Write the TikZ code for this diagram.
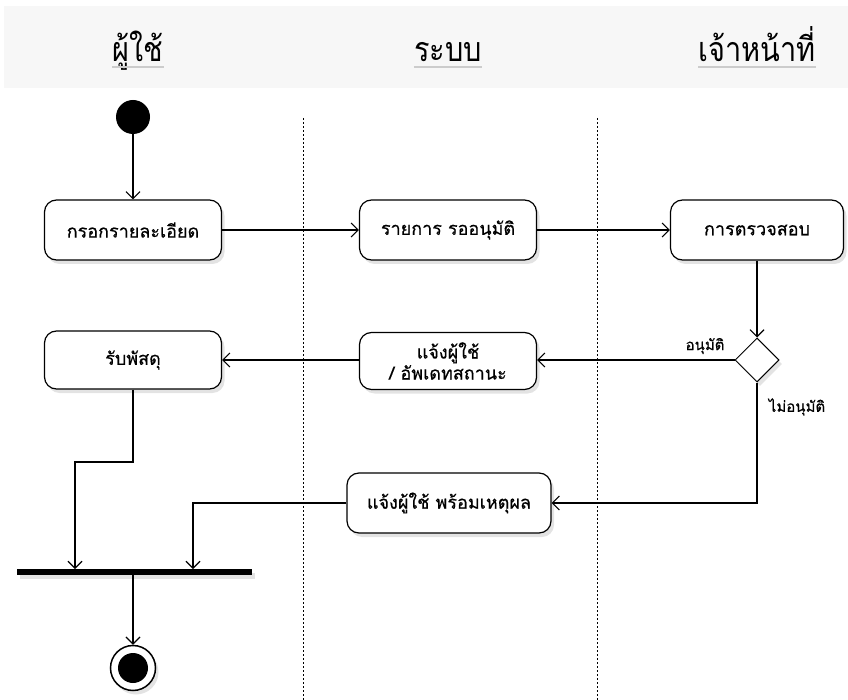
\documentclass[tikz,border=0pt]{standalone}
\usepackage{fontspec}
\newfontfamily\thai[Script=Thai]{Loma}
\newfontfamily\thaih[Script=Thai,FakeStretch=0.85]{Loma}
\newfontfamily\thaib[Script=Thai,FakeBold=0.5]{Loma}
\usetikzlibrary{arrows.meta,shapes.geometric,shadows}
\begin{document}
\begin{tikzpicture}[x=1pt,y=-1pt,
 shad/.style={drop shadow={opacity=0.22,shadow xshift=3pt,shadow yshift=-4pt}},
 act/.style={draw, rounded corners=12pt, fill=white, line width=1.2pt, minimum width=177pt, minimum height=60pt, inner sep=2pt, align=center, font=\thaib\fontsize{18}{21}\selectfont, shad},
 flow/.style={line width=1.1pt, -{Straight Barb[length=7pt,width=14pt,line width=1.1pt]}},
 lane/.style={dash pattern=on 2pt off 2pt, line width=1pt},
 hdr/.style={font=\thaih\fontsize{34}{36}\selectfont, inner sep=0pt, anchor=base},
 lbl/.style={font=\thaib\fontsize{15}{17}\selectfont, inner sep=0pt},
]
\useasboundingbox (0,0) rectangle (848,700);
\fill[black!3] (4,6) rectangle (848,88);
\node[hdr] (h1) at (138,62) {ผู้ใช้};
\node[hdr] (h2) at (448,62) {ระบบ};
\node[hdr] (h3) at (757,62) {เจ้าหน้าที่};
\foreach \h in {h1,h2,h3}{\draw[black!20, line width=1.5pt] ([yshift=-5pt]\h.base west) -- ([yshift=-5pt]\h.base east);}
\draw[lane] (303,118) -- (303,700);
\draw[lane] (597,118) -- (597,700);
\node[circle, fill=black, minimum size=34pt, inner sep=0pt] (s) at (133,117) {};
\node[act] (a1) at (133,230) {กรอกรายละเอียด};
\node[act] (a2) at (448,230) {รายการ รออนุมัติ};
\node[act, minimum width=173pt] (a3) at (757,230) {การตรวจสอบ};
\node[act, minimum height=58pt] (a4) at (133,360) {รับพัสดุ};
\node[act, minimum height=57pt] (a5) at (448,361) {แจ้งผู้ใช้\\/ อัพเดทสถานะ};
\node[act, minimum width=204pt] (a6) at (449,503) {แจ้งผู้ใช้ พร้อมเหตุผล};
\node[diamond, draw, fill=white, line width=1pt, aspect=1, minimum width=44pt, minimum height=44pt, inner sep=0pt, shad] (d) at (757,360) {};
\node[fill=black, minimum width=235pt, minimum height=6pt, inner sep=0pt, shad] (bar) at (134.5,572) {};
\node[circle, draw, fill=white, line width=1.5pt, minimum size=45pt, inner sep=0pt, shad] (e) at (133,668) {};
\node[circle, fill=black, minimum size=30pt, inner sep=0pt] (ei) at (e) {};
\coordinate (j1) at (75,569);
\coordinate (j2) at (193,569);
\draw[flow] (s) -- (a1);
\draw[flow] (a1) -- (a2);
\draw[flow] (a2) -- (a3);
\draw[flow] (a3) -- (d);
\draw[flow] (d.west) -- (d.west -| a5.east);
\draw[flow] (a5.west |- a4) -- (a4.east);
\draw[flow] (d.south) |- (a6.east);
\draw[flow] (a4.south) -- (133,462) -| (j1);
\draw[flow] (a6.west) -| (j2);
\draw[flow] (e.north |- bar.south) -- (e.north);
\node[lbl] (l1) at (705,346) {อนุมัติ};
\node[lbl] (l2) at (797,407) {ไม่อนุมัติ};
\end{tikzpicture}
\end{document}
